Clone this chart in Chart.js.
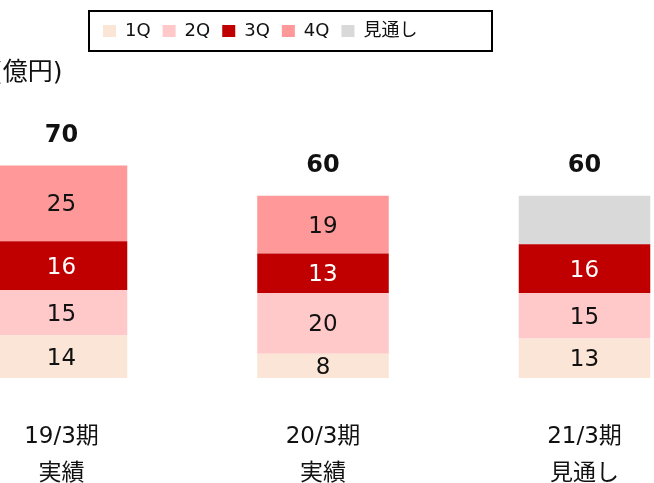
<!DOCTYPE html>
<html>
<head>
<meta charset="utf-8">
<script src="https://cdn.jsdelivr.net/npm/chart.js@4.4.0/dist/chart.umd.min.js"></script>
<style>
  html, body { margin: 0; padding: 0; background: #fff; overflow: hidden; }
  #wrap { position: relative; width: 654px; height: 483px; }
</style>
</head>
<body>
<div id="wrap"><canvas id="salesChart"></canvas></div>
<script>
// chart data
var periods = [['19/3期', '実績'], ['20/3期', '実績'], ['21/3期', '見通し']];
var q1 = [14, 8, 13];
var q2 = [15, 20, 15];
var q3 = [16, 13, 16];
var q4 = [25, 19, null];
var outlook = [null, null, 16];
var seriesNames = ['1Q', '2Q', '3Q', '4Q', '見通し'];
var seriesValues = [q1, q2, q3, q4, outlook];
var seriesColors = ['#FBE5D6', '#FFC9C9', '#C00000', '#FF9999', '#D9D9D9'];
var unitLabel = '(億円)';

var fontFamily = '"DejaVu Sans", "Noto Sans CJK JP", sans-serif';

// build datasets, x is the period index
var datasets = [];
for (var i = 0; i < seriesNames.length; i++) {
  var pts = [];
  for (var j = 0; j < periods.length; j++) {
    pts.push({ x: j, y: seriesValues[i][j] });
  }
  datasets.push({
    label: seriesNames[i],
    data: pts,
    backgroundColor: seriesColors[i],
    borderWidth: 0,
    categoryPercentage: 1,
    barPercentage: 0.503
  });
}

// box around the legend
var legendFrame = {
  id: 'legendFrame',
  afterLayout: function(chart) {
    var lg = chart.legend;
    lg.left = 91;
    lg.right = 493;
    lg.width = lg.right - lg.left;
  },
  afterDraw: function(chart) {
    var lg = chart.legend;
    var ctx = chart.ctx;
    ctx.save();
    ctx.strokeStyle = '#000';
    ctx.lineWidth = 2;
    ctx.strokeRect(lg.left - 2, lg.top + 1, lg.width + 1, lg.height);
    ctx.restore();
  }
};

// values inside the bars, totals on top, unit text
var barLabels = {
  id: 'barLabels',
  afterDatasetsDraw: function(chart) {
    var ctx = chart.ctx;
    ctx.save();
    ctx.textAlign = 'center';
    ctx.textBaseline = 'middle';
    ctx.font = '23px ' + fontFamily;
    var tops = [];
    var totals = [];
    chart.data.datasets.forEach(function(ds, di) {
      var meta = chart.getDatasetMeta(di);
      meta.data.forEach(function(el, k) {
        var v = seriesValues[di][k];
        if (v == null) return;
        totals[k] = (totals[k] || 0) + v;
        if (tops[k] == null || el.y < tops[k].y) tops[k] = el;
        if (ds.label === '見通し') return;
        ctx.fillStyle = di === 2 ? '#fff' : '#111';
        ctx.fillText(String(v), el.x, (el.y + el.base) / 2 + 2);
      });
    });
    ctx.font = 'bold 24px ' + fontFamily;
    ctx.fillStyle = '#111';
    tops.forEach(function(el, k) {
      ctx.fillText(String(totals[k]), el.x, el.y - 30);
    });
    ctx.textAlign = 'left';
    ctx.font = '25px ' + fontFamily;
    ctx.fillText(unitLabel, -7, 73);
    ctx.restore();
  }
};

var ctx = document.getElementById('salesChart');
var salesChart = new Chart(ctx, {
  type: 'bar',
  data: { datasets: datasets },
  plugins: [legendFrame, barLabels],
  options: {
    responsive: true,
    maintainAspectRatio: false,
    animation: false,
    layout: { padding: { top: 10, left: 0, right: 0, bottom: 0 } },
    plugins: {
      legend: {
        position: 'top',
        align: 'start',
        labels: {
          boxWidth: 13,
          boxHeight: 12,
          padding: 12,
          color: '#111',
          font: { family: fontFamily, size: 18 }
        }
      },
      tooltip: { enabled: false }
    },
    scales: {
      x: {
        type: 'linear',
        stacked: true,
        offset: false,
        min: -61.5 / 261.5,
        max: (654 - 61.5) / 261.5,
        grid: { display: false, drawTicks: false },
        border: { display: false },
        afterBuildTicks: function(scale) {
          scale.ticks = periods.map(function(p, i) { return { value: i }; });
        },
        afterFit: function(scale) {
          scale.height = 105;
          scale.paddingLeft = 0;
          scale.paddingRight = 0;
        },
        ticks: {
          autoSkip: false,
          maxRotation: 0,
          padding: 41,
          color: '#111',
          font: { family: fontFamily, size: 23, lineHeight: 1.587 },
          callback: function(value) { return periods[value]; }
        }
      },
      y: {
        display: false,
        stacked: true,
        min: 0,
        max: 108
      }
    }
  }
});
</script>
</body>
</html>
